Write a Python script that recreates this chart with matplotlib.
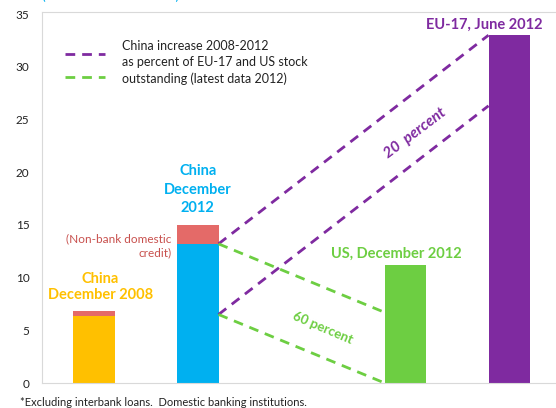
import matplotlib
matplotlib.use('Agg')
import matplotlib.pyplot as plt
import numpy as np

plt.rcParams['font.family'] = ['Lato', 'DejaVu Sans']

# stock of credit, trillions of US dollars
categories = ['China, Dec 2008', 'China, Dec 2012', '', 'US, Dec 2012', 'EU-17, Jun 2012']
bank_credit = [6.4, 13.2, 0.0, 11.2, 33.0]
nonbank_credit = [0.4, 1.8, 0.0, 0.0, 0.0]
china_increase = 6.7      # 2008-2012 increase in bank credit
lower_start = 6.5         # base of the increase band on the 2012 bar

c_yellow = '#FFC000'
c_blue = '#00B0F0'
c_red = '#E46A68'
c_green = '#6DCE42'
c_purple = '#7F2AA0'
bar_colors = [c_yellow, c_blue, 'none', c_green, c_purple]

fig = plt.figure(figsize=(5.56, 4.08), dpi=100)
ax = fig.add_axes([42 / 556, 25 / 408, 1 - 42 / 556, 371 / 408])

x = np.arange(len(categories))
w = 0.4
ax.bar(x, bank_credit, width=w, color=bar_colors, zorder=2)
ax.bar(x, nonbank_credit, width=w, bottom=bank_credit, color=c_red, zorder=2)

ax.set_xlim(-0.5, 4.45)
ax.set_ylim(0, 35.2)
ax.set_yticks(np.arange(0, 36, 5))
ax.set_xticks([])
ax.tick_params(axis='y', length=0, labelsize=8.5, pad=9, labelcolor='#222222')
for s in ['left', 'bottom', 'top']:
    ax.spines[s].set_color('#D9D9D9')
ax.spines['right'].set_visible(False)

# dashed bands: China's increase as share of EU-17 and US stocks
x0 = x[1] + w / 2
xe = x[4] - w / 2
xu = x[3] - w / 2
dash = dict(lw=2, linestyle=(0, (3.5, 2.5)), zorder=3)
ax.plot([x0, xe], [bank_credit[1], bank_credit[4]], color=c_purple, **dash)
ax.plot([x0, xe], [lower_start, bank_credit[4] - china_increase], color=c_purple, **dash)
ax.plot([x0, xu], [bank_credit[1], china_increase], color=c_green, **dash)
ax.plot([x0, xu], [lower_start, 0], color=c_green, **dash)

# legend drawn by hand
ax.plot([-0.279, 0.106], [31.2, 31.2], color=c_purple, **dash)
ax.plot([-0.279, 0.106], [29.0, 29.0], color=c_green, **dash)
ax.text(0.27, 30.4, 'China increase 2008-2012\nas percent of EU-17 and US stock\noutstanding (latest data 2012)',
        ha='left', va='center', fontsize=9, color='#222222', linespacing=1.45)

# bar labels
lbl = dict(fontweight='bold', fontsize=10.5, ha='center', va='center')
ax.text(0.06, 9.1, 'China\nDecember 2008', color=c_yellow, linespacing=1.25, **lbl)
ax.text(1.0, 18.35, 'China\nDecember\n2012', color=c_blue, linespacing=1.4, **lbl)
ax.text(2.91, 12.3, 'US, December 2012', color=c_green, **lbl)
ax.text(3.76, 33.95, 'EU-17, June 2012', color=c_purple, **lbl)
ax.text(0.75, 13.0, '(Non-bank domestic\ncredit)', color='#C8504D', fontsize=8.5,
        ha='right', va='center', multialignment='right', linespacing=1.3)

ax.text(3.09, 23.7, '20  percent', color=c_purple, fontsize=11, fontweight='bold',
        fontstyle='italic', rotation=37, ha='center', va='center')
ax.text(2.2, 5.2, '60 percent', color=c_green, fontsize=9.5, fontweight='bold',
        rotation=-23, ha='center', va='center')

fig.text(42 / 556, 1 - 0.5 / 408, '(Trillions of US dollars)', color=c_blue,
         fontsize=10, ha='left', va='baseline')
fig.text(20 / 556, 6 / 408, '*Excluding interbank loans.  Domestic banking institutions.',
         fontsize=8, ha='left', va='center', color='#222222')

fig.savefig('out.png', dpi=100)
